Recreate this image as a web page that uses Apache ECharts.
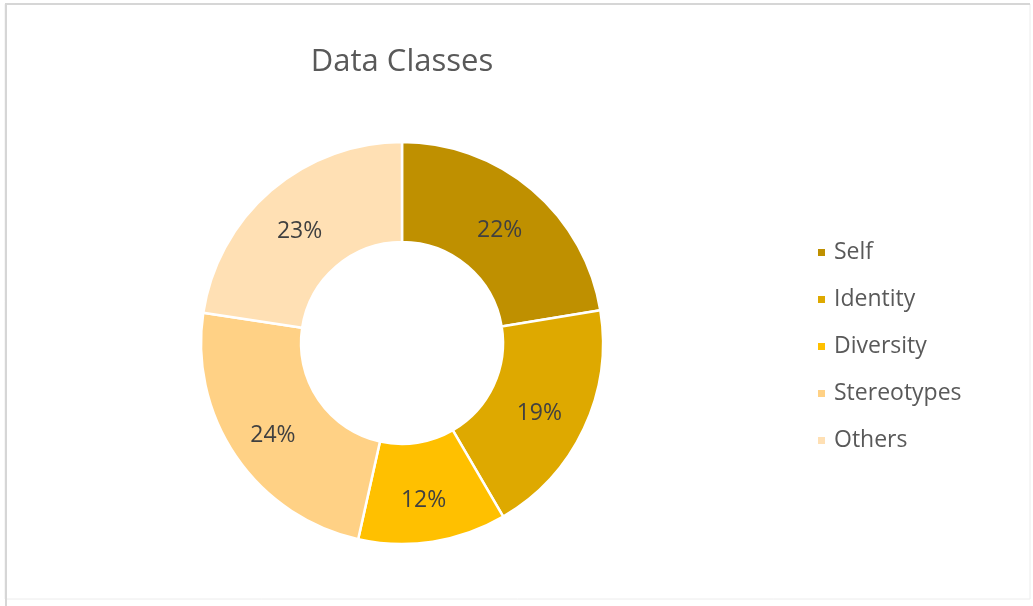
<!DOCTYPE html>
<html>
<head>
<meta charset="utf-8">
<script src="https://cdn.jsdelivr.net/npm/echarts@6/dist/echarts.min.js"></script>
<style>
  html, body { margin: 0; padding: 0; background: #fff; }
  #chart { width: 1033px; height: 606px; }
</style>
</head>
<body>
<div id="chart"></div>
<script>
// data (share of each class, in %)
var classNames = ['Self', 'Identity', 'Diversity', 'Stereotypes', 'Others'];
var classShares = [22.4, 19.2, 11.9, 23.9, 22.6];
var classColors = ['#BF9000', '#DEA900', '#FFC000', '#FFD185', '#FFE0B4'];

var pieData = [];
for (var i = 0; i < classNames.length; i++) {
  pieData.push({ name: classNames[i], value: classShares[i], itemStyle: { color: classColors[i] } });
}

var chart = echarts.init(document.getElementById('chart'));
chart.setOption({
  animation: false,
  textStyle: { fontFamily: 'Open Sans' },
  title: {
    text: 'Data Classes',
    left: 397,
    textAlign: 'center',
    top: 42,
    textStyle: { fontSize: 31, fontWeight: 'normal', color: '#595959', fontFamily: 'Open Sans' }
  },
  legend: {
    orient: 'vertical',
    left: 811,
    top: 236,
    itemWidth: 9,
    itemHeight: 9,
    itemGap: 24,
    icon: 'rect',
    data: classNames,
    textStyle: { fontSize: 23, color: '#595959', fontFamily: 'Open Sans', padding: [0, 0, 0, 3] }
  },
  graphic: [
    { type: 'rect', shape: { x: 5, y: 4, width: 1025, height: 595 }, style: { fill: 'none', stroke: '#ececec', lineWidth: 1 } },
    { type: 'line', shape: { x1: 5, y1: 4, x2: 1030, y2: 4 }, style: { stroke: '#d6d6d6', lineWidth: 2 } },
    { type: 'line', shape: { x1: 6, y1: 4, x2: 6, y2: 606 }, style: { stroke: '#d6d6d6', lineWidth: 2 } }
  ],
  series: [{
    type: 'pie',
    center: [402, 343],
    radius: [101, 201],
    startAngle: 90,
    clockwise: true,
    avoidLabelOverlap: false,
    itemStyle: { borderColor: '#ffffff', borderWidth: 2.5 },
    label: {
      show: true,
      position: 'inside',
      fontSize: 23,
      offset: [-2, 5],
      color: '#404040',
      fontFamily: 'Open Sans',
      formatter: function (p) { return Math.round(p.percent) + '%'; }
    },
    labelLine: { show: false },
    emphasis: { disabled: true },
    data: pieData
  }]
});
</script>
</body>
</html>
